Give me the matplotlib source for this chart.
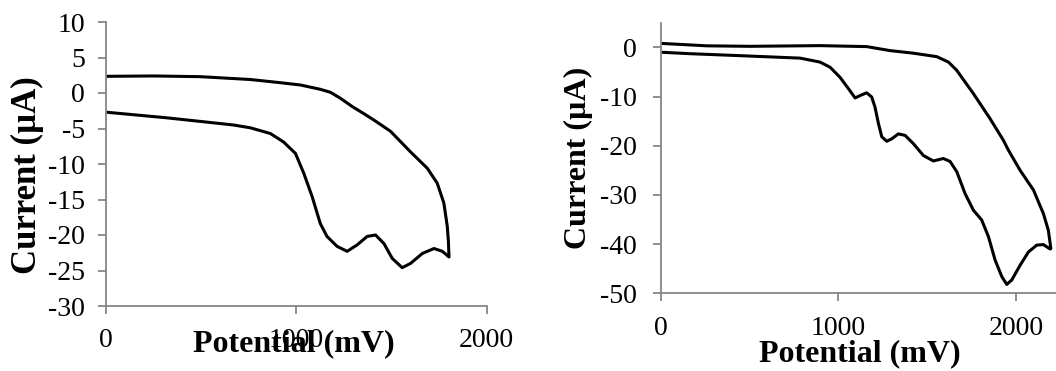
import matplotlib
matplotlib.use("Agg")
import matplotlib.pyplot as plt

plt.rcParams["font.family"] = ["Liberation Serif", "DejaVu Serif"]
plt.rcParams["axes.unicode_minus"] = False

# Panel A: cyclic voltammogram, sweep 0 -> 1800 mV and back
pot_a = [0, 250, 495, 758, 916, 1021, 1126, 1179, 1232, 1293, 1354, 1407, 1495,
         1600, 1688, 1740, 1775, 1793, 1799, 1802,
         1767, 1723, 1662, 1600, 1556, 1504, 1460, 1416, 1372, 1319, 1267, 1214,
         1161, 1126, 1083, 1039, 995, 933, 863, 758, 668, 495, 321, 0]
cur_a = [2.35, 2.4, 2.3, 1.9, 1.45, 1.13, 0.52, 0.1, -0.75, -1.9, -2.9, -3.8, -5.4,
         -8.3, -10.6, -12.7, -15.5, -18.8, -21.0, -23.1,
         -22.3, -21.9, -22.6, -24.0, -24.6, -23.3, -21.2, -20.0, -20.2, -21.4, -22.3, -21.6,
         -20.2, -18.4, -14.6, -11.3, -8.5, -6.9, -5.7, -4.9, -4.5, -4.0, -3.5, -2.7]

# Panel B: cyclic voltammogram, sweep 0 -> 2200 mV and back
pot_b = [0, 259, 500, 784, 896, 1159, 1290, 1422, 1553, 1619, 1666, 1759, 1853,
         1928, 1956, 2022, 2097, 2153, 2181, 2195,
         2191, 2153, 2116, 2069, 2022, 1975, 1947, 1919, 1881, 1844, 1806, 1759,
         1712, 1666, 1628, 1590, 1534, 1478, 1422, 1375, 1337, 1300, 1272, 1244,
         1225, 1206, 1187, 1159, 1122, 1094, 1056, 1009, 953, 896, 784, 446, 165, 0]
cur_b = [0.8, 0.3, 0.2, 0.3, 0.34, 0.14, -0.67, -1.2, -1.9, -3.0, -4.7, -9.4, -14.5,
         -18.9, -20.9, -25.0, -29.0, -33.8, -37.2, -40.9,
         -41.0, -40.1, -40.2, -41.6, -44.3, -47.3, -48.2, -46.6, -43.2, -38.5, -35.1, -33.1,
         -29.7, -25.3, -23.2, -22.6, -23.1, -22.0, -19.6, -17.9, -17.6, -18.6, -19.1, -18.2,
         -15.5, -12.2, -10.1, -9.25, -9.8, -10.3, -8.4, -6.1, -4.05, -3.0, -2.2, -1.7, -1.3, -1.0]

x_ticks = [0, 1000, 2000]
y_ticks_a = [10, 5, 0, -5, -10, -15, -20, -25, -30]
y_ticks_b = [0, -10, -20, -30, -40, -50]

W, H = 1056, 371
fig = plt.figure(figsize=(W / 100, H / 100), dpi=100)

axis_grey = "#868686"


def px_axes(x0, x1, y_top, y_bot):
    return fig.add_axes([x0 / W, 1 - y_bot / H, (x1 - x0) / W, (y_bot - y_top) / H])


def style(ax, xpad, ypad):
    for side in ("top", "right"):
        ax.spines[side].set_visible(False)
    for side in ("left", "bottom"):
        ax.spines[side].set_color(axis_grey)
        ax.spines[side].set_linewidth(1.3)
    ax.tick_params(axis="both", direction="out", length=6, width=1.3,
                   color=axis_grey, labelsize=20, labelcolor="black")
    ax.tick_params(axis="x", pad=xpad)
    ax.tick_params(axis="y", pad=ypad)
    ax.patch.set_alpha(0)


# Left panel
ax1 = px_axes(106, 486.7, 22, 306)
ax1.plot(pot_a, cur_a, color="black", lw=2.2, solid_joinstyle="round")
ax1.set_xlim(0, 2000)
ax1.set_ylim(-30, 10)
ax1.set_xticks(x_ticks)
ax1.set_yticks(y_ticks_a)
style(ax1, xpad=10, ypad=9)
fig.text(294 / W, 1 - 344 / H, "Potential (mV)", ha="center", va="center",
         fontsize=23, fontweight="bold")
fig.text(27 / W, 1 - 175 / H, "Current (µA)", ha="center", va="center",
         rotation=90, fontsize=25, fontweight="bold")

# Right panel
ax2 = px_axes(660.7, 1056, 22.7, 293.3)
ax2.plot(pot_b, cur_b, color="black", lw=2.2, solid_joinstyle="round")
ax2.set_xlim(0, 2224)
ax2.set_ylim(-50, 5)
ax2.set_xticks(x_ticks)
ax2.set_yticks(y_ticks_b)
style(ax2, xpad=10, ypad=11)
fig.text(860 / W, 1 - 354 / H, "Potential (mV)", ha="center", va="center",
         fontsize=23, fontweight="bold")
fig.text(578 / W, 1 - 158 / H, "Current (µA)", ha="center", va="center",
         rotation=90, fontsize=23, fontweight="bold")

fig.savefig("out.png", dpi=100)
